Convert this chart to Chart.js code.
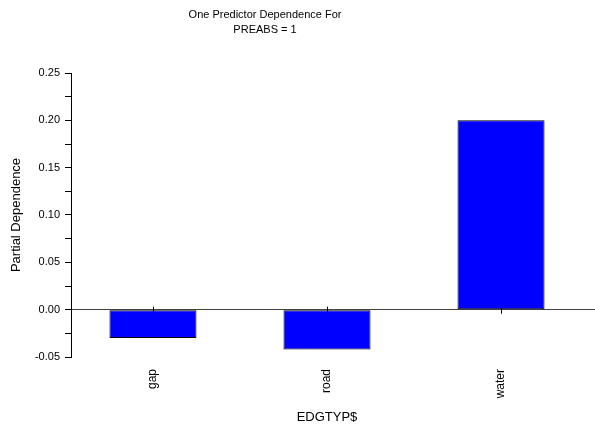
<!DOCTYPE html>
<html>
<head>
<meta charset="utf-8">
<script src="https://cdn.jsdelivr.net/npm/chart.js@4/dist/chart.umd.min.js"></script>
<style>
  html, body { margin: 0; padding: 0; background: #fff; }
  #wrap { width: 595px; height: 431px; }
</style>
</head>
<body>
<div id="wrap"><canvas id="c" width="595" height="431"></canvas></div>
<script>
// Partial dependence of PREABS = 1 on the edge type predictor
const titleLines = ['One Predictor Dependence For', 'PREABS = 1'];
const categories = ['gap', 'road', 'water'];
const dependence = [-0.030, -0.042, 0.200];
const yTicks = [-0.05, 0, 0.05, 0.10, 0.15, 0.20, 0.25];
const xAxisTitle = 'EDGTYP$';
const yAxisTitle = 'Partial Dependence';

const FONT = 'Liberation Sans, Arial, sans-serif';

// Title, x-axis title and the small category ticks that cross the zero line
const decorations = {
  id: 'decorations',
  beforeDatasetsDraw(chart) {
    const ctx = chart.ctx;
    const x = chart.scales.x, y = chart.scales.y;
    const y0 = y.getPixelForValue(0);
    ctx.save();
    ctx.strokeStyle = '#000';
    ctx.lineWidth = 1;
    categories.forEach((c, i) => {
      const px = Math.round(x.getPixelForValue(i)) + 0.5;
      ctx.beginPath();
      ctx.moveTo(px, y0 - 3);
      ctx.lineTo(px, y0 + 4);
      ctx.stroke();
    });
    ctx.restore();
  },
  afterDraw(chart) {
    const ctx = chart.ctx;
    const x = chart.scales.x;
    ctx.save();
    ctx.fillStyle = '#000';
    ctx.textAlign = 'center';
    ctx.textBaseline = 'middle';
    ctx.font = '11px ' + FONT;
    titleLines.forEach((t, i) => ctx.fillText(t, 265, 15 + i * 15));
    ctx.font = '13px ' + FONT;
    ctx.fillText(xAxisTitle, x.getPixelForValue((categories.length - 1) / 2), 417);
    ctx.restore();
  }
};

new Chart(document.getElementById('c'), {
  type: 'bar',
  data: {
    datasets: [{
      data: dependence.map((v, i) => ({ x: i, y: v })),
      backgroundColor: '#0000FF',
      borderColor: '#000',
      borderWidth: 1,
      borderSkipped: false,
      barPercentage: 0.5,
      categoryPercentage: 1.0
    }]
  },
  options: {
    responsive: false,
    animation: false,
    devicePixelRatio: 1,
    layout: { padding: { top: 73, left: 0, right: 0, bottom: 0 } },
    plugins: {
      legend: { display: false },
      tooltip: { enabled: false },
      title: { display: false }
    },
    scales: {
      x: {
        type: 'linear',
        offset: false,
        min: -0.471,
        max: 2.54,
        afterFit(scale) { scale.height = 74; },
        afterBuildTicks(scale) {
          scale.ticks = categories.map((c, i) => ({ value: i }));
        },
        grid: { display: false, drawTicks: false },
        border: { display: false },
        ticks: {
          minRotation: 90,
          maxRotation: 90,
          padding: 12,
          color: '#000',
          font: { family: FONT, size: 12 },
          callback: (v) => categories[v] ?? ''
        }
      },
      y: {
        min: -0.05,
        max: 0.25,
        afterFit(scale) { scale.width = 71; },
        afterBuildTicks(scale) {
          const t = [];
          for (let k = 0; k <= 12; k++) t.push({ value: Math.round((-0.05 + k * 0.025) * 1000) / 1000 });
          scale.ticks = t;
        },
        grid: {
          drawOnChartArea: true,
          color: (ctx) => (ctx.tick && ctx.tick.value === 0 ? '#444' : 'rgba(0,0,0,0)'),
          tickColor: '#000',
          tickLength: 6
        },
        border: { display: true, color: '#000', width: 1 },
        ticks: {
          padding: 5,
          color: '#000',
          font: { family: FONT, size: 11 },
          callback: (v) => {
            const hit = yTicks.find(t => Math.abs(t - v) < 1e-9);
            return hit === undefined ? '' : hit.toFixed(2);
          }
        },
        title: {
          display: true,
          text: yAxisTitle,
          color: '#000',
          font: { family: FONT, size: 13 },
          padding: { top: 9, bottom: 0 }
        }
      }
    }
  },
  plugins: [decorations]
});
</script>
</body>
</html>
